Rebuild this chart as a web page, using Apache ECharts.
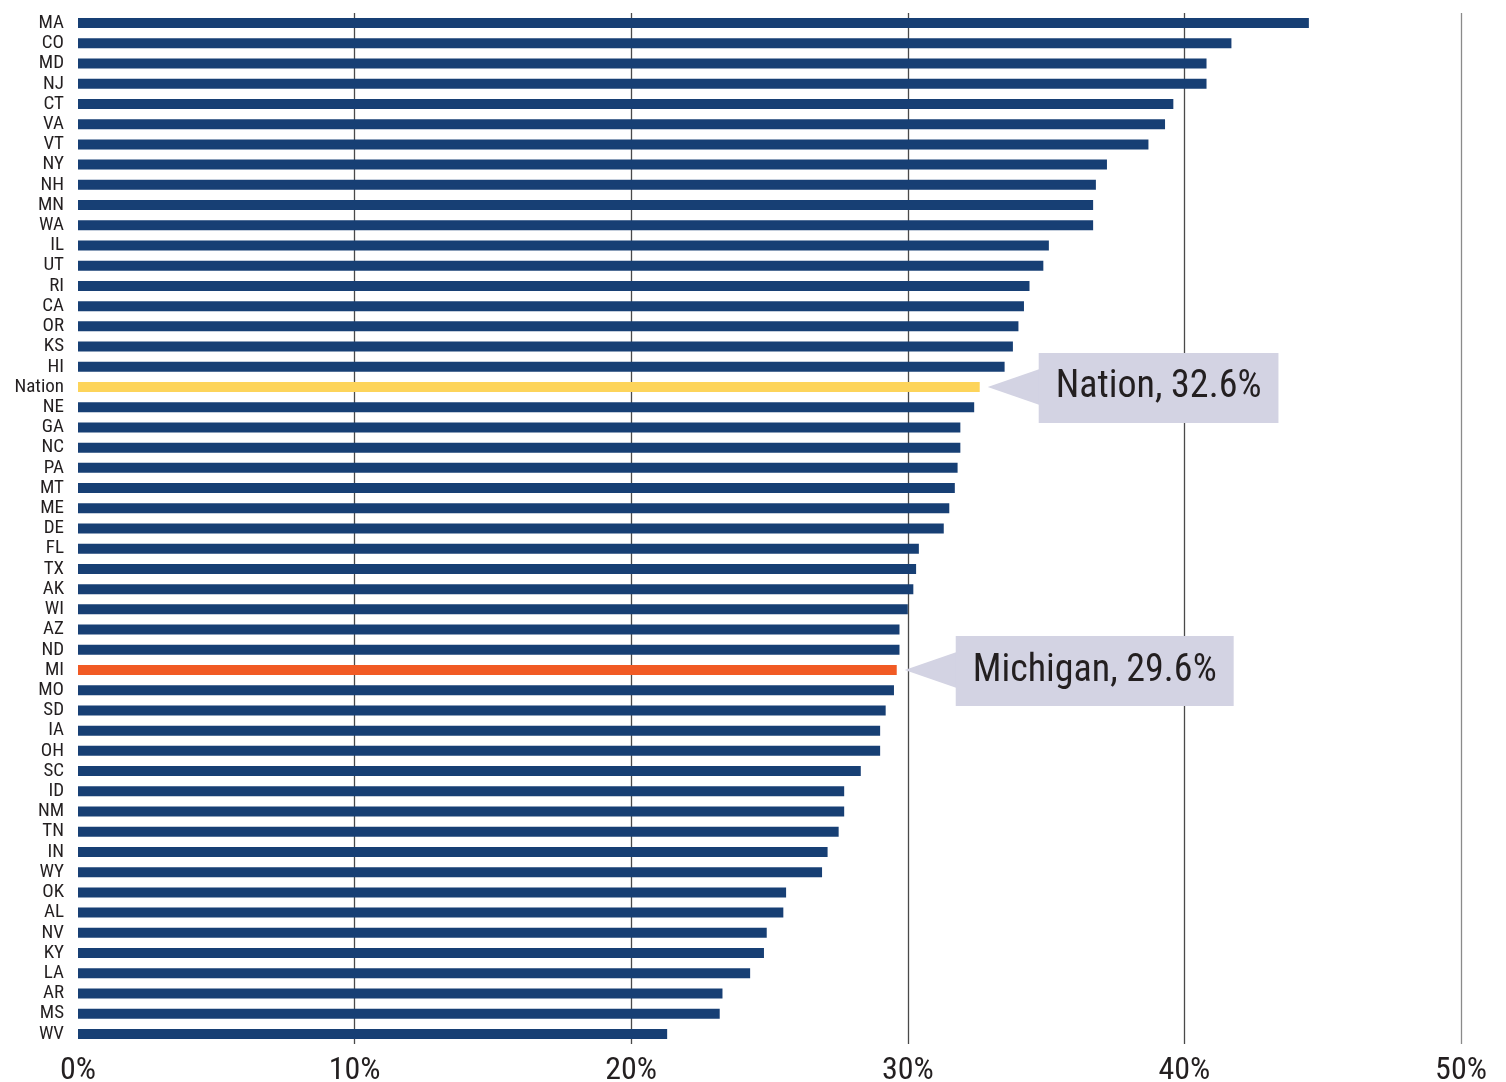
<!DOCTYPE html>
<html>
<head>
<meta charset="utf-8">
<script src="https://cdn.jsdelivr.net/npm/echarts@6/dist/echarts.min.js"></script>
<style>
  html, body { margin: 0; padding: 0; background: #fff; }
  #chart { width: 1506px; height: 1082px; }
</style>
</head>
<body>
<div id="chart"></div>
<script>
// states from top to bottom
const states = ['MA', 'CO', 'MD', 'NJ', 'CT', 'VA', 'VT', 'NY', 'NH', 'MN', 'WA', 'IL', 'UT', 'RI', 'CA', 'OR', 'KS', 'HI',
  'Nation', 'NE', 'GA', 'NC', 'PA', 'MT', 'ME', 'DE', 'FL', 'TX', 'AK', 'WI', 'AZ', 'ND', 'MI', 'MO', 'SD', 'IA', 'OH',
  'SC', 'ID', 'NM', 'TN', 'IN', 'WY', 'OK', 'AL', 'NV', 'KY', 'LA', 'AR', 'MS', 'WV'];
const values = [44.5, 41.7, 40.8, 40.8, 39.6, 39.3, 38.7, 37.2, 36.8, 36.7, 36.7, 35.1, 34.9, 34.4, 34.2, 34.0, 33.8, 33.5,
  32.6, 32.4, 31.9, 31.9, 31.8, 31.7, 31.5, 31.3, 30.4, 30.3, 30.2, 30.0, 29.7, 29.7, 29.6, 29.5, 29.2, 29.0, 29.0,
  28.3, 27.7, 27.7, 27.5, 27.1, 26.9, 25.6, 25.5, 24.9, 24.8, 24.3, 23.3, 23.2, 21.3];
const xTicks = [0, 10, 20, 30, 40, 50];

// callouts: which bar, and the text
const callouts = [
  ['Nation', 'Nation, 32.6%'],
  ['MI', 'Michigan, 29.6%']
];

const baseColor = '#173f74';
const highlight = { Nation: '#fdd45a', MI: '#f15a24' };
const font = '"Liberation Sans Narrow", "Roboto Condensed", "DejaVu Sans Condensed", sans-serif';

const barData = states.map((s, i) => ({
  value: values[i],
  itemStyle: { color: highlight[s] || baseColor }
}));

const calloutData = callouts.map(c => [values[states.indexOf(c[0])], c[0], c[1]]);

let chart = echarts.init(document.getElementById('chart'));
chart.setOption({
  animation: false,
  grid: { left: 78, right: 45, top: 13, bottom: 38, outerBoundsMode: 'none', containLabel: false },
  xAxis: {
    type: 'value',
    min: xTicks[0],
    max: xTicks[xTicks.length - 1],
    interval: 10,
    axisLine: { show: false },
    axisTick: { show: false },
    axisLabel: {
      formatter: '{value}%',
      fontFamily: font,
      fontSize: 32,
      color: '#231f20',
      margin: 11
    },
    splitLine: {
      lineStyle: { color: ['transparent', '#4a4a4a', '#4a4a4a', '#4a4a4a', '#4a4a4a', '#8a8a8a'], width: 1.3 }
    }
  },
  yAxis: {
    type: 'category',
    data: states,
    inverse: true,
    axisLine: { show: false },
    axisTick: { show: false },
    axisLabel: {
      interval: 0,
      fontFamily: font,
      fontSize: 19,
      color: '#231f20',
      margin: 14
    }
  },
  series: [
    {
      type: 'bar',
      data: barData,
      barWidth: 10,
      z: 3
    },
    {
      type: 'custom',
      data: calloutData,
      z: 5,
      renderItem(params, api) {
        const end = api.coord([api.value(0), api.value(1)]);
        const text = calloutData[params.dataIndex][2];
        const tipX = end[0] + 8;
        const boxX = tipX + 51;
        const y = end[1];
        return {
          type: 'group',
          children: [
            {
              type: 'polygon',
              shape: { points: [[tipX, y], [boxX + 1, y - 18], [boxX + 1, y + 18]] },
              style: { fill: '#d3d3e3' }
            },
            {
              type: 'text',
              x: boxX,
              y: y + 1,
              style: {
                text: text,
                fontFamily: font,
                fontSize: 38,
                fill: '#231f20',
                verticalAlign: 'middle',
                align: 'left',
                backgroundColor: '#d3d3e3',
                padding: [17, 17, 15, 17]
              }
            }
          ]
        };
      }
    }
  ]
});
</script>
</body>
</html>
